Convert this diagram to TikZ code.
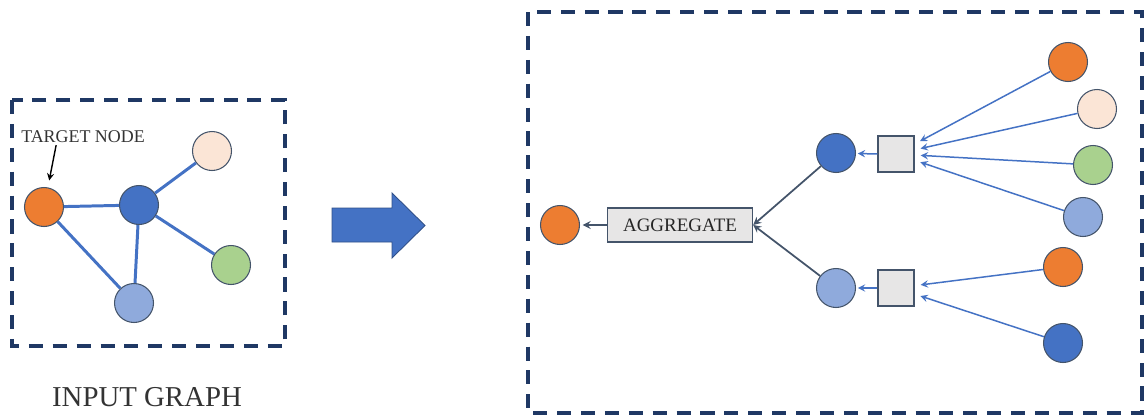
\documentclass[tikz,border=0pt]{standalone}
\usepackage{fontspec}
\setmainfont{Liberation Serif}

\definecolor{gnnorange}{RGB}{237,125,49}
\definecolor{gnnpeach}{RGB}{251,229,214}
\definecolor{gnngreen}{RGB}{169,209,142}
\definecolor{gnnblue}{RGB}{68,114,196}
\definecolor{gnnlight}{RGB}{143,170,220}
\definecolor{gnnnavy}{RGB}{31,56,100}
\definecolor{gnngray}{RGB}{231,230,230}
\definecolor{gnnslate}{RGB}{68,84,106}

\tikzset{
  vertex/.style={circle,draw=gnnslate,line width=0.6pt,minimum size=0.78cm,inner sep=0pt},
  frame/.style={draw=gnnnavy,line width=2.3pt,dash pattern=on 8pt off 5.6pt},
  sqbox/.style={draw=gnnslate,fill=gnngray,line width=0.8pt,minimum size=0.72cm,inner sep=0pt},
  edge/.style={gnnblue,line width=1.7pt},
  msg/.style={->,gnnblue,line width=0.85pt,shorten >=3.4pt},
}

\begin{document}
\begin{tikzpicture}[x=0.02cm,y=-0.02cm,>=stealth]
  \useasboundingbox (0,0) rectangle (1146,419);

  % input graph
  \draw[frame] (12,100) rectangle (285,346);
  \node[vertex,fill=gnnorange] (target) at (44,207) {};
  \node[vertex,fill=gnnblue] (hub) at (139,205) {};
  \node[vertex,fill=gnnpeach] (peach) at (212,151) {};
  \node[vertex,fill=gnngreen] (green) at (231,265) {};
  \node[vertex,fill=gnnlight] (light) at (134,303) {};
  \draw[edge] (target)--(hub);
  \draw[edge] (target)--(light);
  \draw[edge] (hub)--(peach);
  \draw[edge] (hub)--(green);
  \draw[edge] (hub)--(light);
  \node[text=black!80,font=\fontsize{10.2}{12}\selectfont,inner sep=1pt] (tlabel) at (83,137) {TARGET NODE};
  \draw[->,thick,shorten >=4pt] ([xshift=0.74cm]tlabel.south west)--(target);
  \node[text=black!80,font=\fontsize{16.4}{19}\selectfont] (caption) at (147,397) {INPUT GRAPH};

  % big arrow
  \draw[fill=gnnblue,draw=gnnblue!70!black,line width=0.5pt]
    (332,208)--(392,208)--(392,193)--(425,225.5)--(392,258)--(392,242)--(332,242)--cycle;

  % aggregation tree
  \draw[frame] (528,12) rectangle (1142,413);
  \node[vertex,fill=gnnorange] (out) at (560,225) {};
  \node[sqbox,minimum width=2.9cm,minimum height=0.68cm,text=black!85,
    font=\fontsize{10.8}{13}\selectfont] (agg) at (680,225) {AGGREGATE};
  \node[vertex,fill=gnnblue] (mida) at (836,153) {};
  \node[vertex,fill=gnnlight] (midb) at (836,288) {};
  \node[sqbox] (sqa) at (896,154) {};
  \node[sqbox] (sqb) at (896,288) {};
  \node[vertex,fill=gnnorange] (na) at (1068,62) {};
  \node[vertex,fill=gnnpeach] (nb) at (1097,109) {};
  \node[vertex,fill=gnngreen] (nc) at (1093,165) {};
  \node[vertex,fill=gnnlight] (nd) at (1083,217) {};
  \node[vertex,fill=gnnorange] (ne) at (1063,267) {};
  \node[vertex,fill=gnnblue] (nf) at (1063,343) {};

  \draw[->,gnnslate,line width=1pt,shorten >=1.5pt] (agg.west)--(out);
  \draw[->,gnnslate,line width=1pt] (mida)--(agg.east);
  \draw[->,gnnslate,line width=1pt] (midb)--(agg.east);
  \draw[msg,shorten >=1pt] (sqa.west)--(mida);
  \draw[msg,shorten >=1pt] (sqb.west)--(midb);
  \draw[msg] (na)--(sqa);
  \draw[msg] (nb)--(sqa);
  \draw[msg] (nc)--(sqa);
  \draw[msg] (nd)--(sqa);
  \draw[msg] (ne)--(sqb);
  \draw[msg] (nf)--(sqb);
\end{tikzpicture}
\end{document}
